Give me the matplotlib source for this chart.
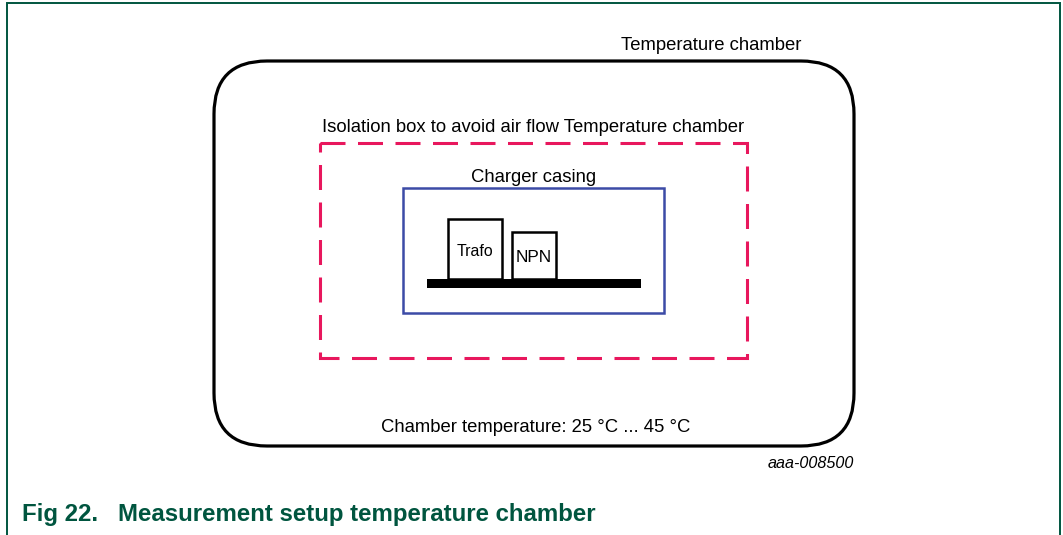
import matplotlib
matplotlib.use("Agg")
import matplotlib.pyplot as plt
from matplotlib.patches import Rectangle, FancyBboxPatch

plt.rcParams['font.family'] = ['Liberation Sans', 'DejaVu Sans']
plt.rcParams['lines.scale_dashes'] = False

# labels
chamber_label = "Temperature chamber"
isolation_label = "Isolation box to avoid air flow Temperature chamber"
casing_label = "Charger casing"
parts = ["Trafo", "NPN"]
part_sizes = [11.4, 12.4]
range_label = "Chamber temperature: 25 °C ... 45 °C"
code_label = "aaa-008500"
caption = "Fig 22.   Measurement setup temperature chamber"

# geometry (pixels)
chamber = (214, 61, 854, 446)
isolation = (320, 143, 747, 358)
casing = (403, 188, 664, 313)
part_boxes = [(448, 219, 502, 279), (512, 232, 556, 279)]
base_bar = (427, 279, 641, 288)

GREEN = "#00553f"
PINK = "#e8175d"
BLUE = "#3c4ba6"

W, H = 1063, 535
fig = plt.figure(figsize=(W / 100, H / 100), dpi=100)
ax = fig.add_axes([0, 0, 1, 1])
ax.set_xlim(0, W)
ax.set_ylim(H, 0)
ax.axis("off")

# page frame (open at bottom)
ax.plot([7, 7, 1060, 1060], [H, 3, 3, H], color=GREEN, lw=1.4, solid_joinstyle="miter")

x0, y0, x1, y1 = chamber
ax.add_patch(FancyBboxPatch((x0, y0), x1 - x0, y1 - y0,
                            boxstyle="round,pad=0,rounding_size=53",
                            fill=False, ec="black", lw=2.3))
ax.text(801, 45, chamber_label, ha="right", va="center", fontsize=13.3)

x0, y0, x1, y1 = isolation
ax.add_patch(Rectangle((x0, y0), x1 - x0, y1 - y0, fill=False, ec=PINK,
                       lw=2.2, ls=(0, (18, 9))))
ax.text((x0 + x1) / 2, 128, isolation_label, ha="center", va="center", fontsize=13.3)

x0, y0, x1, y1 = casing
ax.add_patch(Rectangle((x0, y0), x1 - x0, y1 - y0, fill=False, ec=BLUE, lw=1.8))
ax.text((x0 + x1) / 2, 178, casing_label, ha="center", va="center", fontsize=13.3)

text_y = [251, 257]
for (bx0, by0, bx1, by1), name, ty, fs in zip(part_boxes, parts, text_y, part_sizes):
    ax.add_patch(Rectangle((bx0, by0), bx1 - bx0, by1 - by0, fill=False,
                           ec="black", lw=1.8))
    ax.text((bx0 + bx1) / 2, ty, name, ha="center", va="center", fontsize=fs)

x0, y0, x1, y1 = base_bar
ax.add_patch(Rectangle((x0, y0), x1 - x0, y1 - y0, fc="black", ec="none"))

ax.text(536, 428, range_label, ha="center", va="center", fontsize=13.3)
ax.text(854, 463, code_label, ha="right", va="center", fontsize=11.6, style="italic")

ax.text(22, 514, caption, ha="left", va="center", fontsize=17.3,
        fontweight="bold", color=GREEN)

fig.savefig("out.png", dpi=100)
